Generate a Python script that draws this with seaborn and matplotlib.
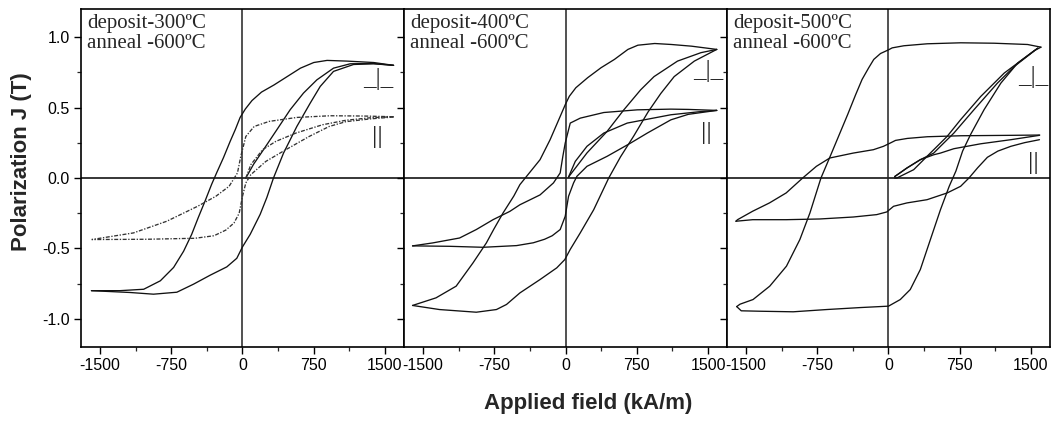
import numpy as np
import pandas as pd
import matplotlib
matplotlib.use("Agg")
import matplotlib.pyplot as plt
from matplotlib.ticker import MultipleLocator, FixedLocator
import seaborn as sns

# ---------------- data (H in kA/m, J in T) ----------------
# Panel 1: deposit-300C
p1_perp_desc_H = [1590, 1380, 1100, 890, 750, 610, 470, 330, 200, 100, 30, -25, -75, -130, -200, -270, -325, -395, -465, -535, -620, -725, -865, -1040, -1290, -1590]
p1_perp_desc_J = [0.80, 0.82, 0.83, 0.835, 0.82, 0.78, 0.72, 0.66, 0.61, 0.55, 0.49, 0.43, 0.345, 0.26, 0.145, 0.04, -0.045, -0.165, -0.28, -0.40, -0.52, -0.635, -0.73, -0.79, -0.80, -0.80]
p1_perp_asc_H = [-1590, -1183, -937, -691, -516, -340, -165, -60, 0, 81, 186, 256, 326, 432, 572, 713, 818, 958, 1169, 1379, 1590]
p1_perp_asc_J = [-0.80, -0.813, -0.825, -0.811, -0.754, -0.69, -0.631, -0.57, -0.489, -0.40, -0.258, -0.139, 0.0, 0.177, 0.366, 0.532, 0.65, 0.757, 0.806, 0.811, 0.80]
p1_perp_init_H = [35, 116, 221, 362, 502, 642, 783, 958, 1134, 1379, 1590]
p1_perp_init_J = [0.0, 0.097, 0.201, 0.343, 0.485, 0.603, 0.697, 0.78, 0.811, 0.813, 0.80]

p1_par_up_H = [1590, 1274, 923, 572, 281, 123, 35, -18, -53, -141, -281, -470, -797, -1148, -1587]
p1_par_up_J = [0.435, 0.44, 0.442, 0.43, 0.402, 0.366, 0.295, 0.154, 0.036, -0.059, -0.13, -0.20, -0.307, -0.39, -0.437]
p1_par_low_H = [1590, 1350, 1088, 913, 702, 456, 246, 88, 35, 0, -35, -90, -176, -300, -500, -1007, -1587]
p1_par_low_J = [0.433, 0.42, 0.40, 0.366, 0.295, 0.201, 0.118, 0.024, -0.035, -0.13, -0.25, -0.32, -0.37, -0.41, -0.428, -0.435, -0.437]
p1_par_init_H = [35, 88, 211, 351, 562, 842, 1088, 1350, 1590]
p1_par_init_J = [0.0, 0.095, 0.201, 0.26, 0.319, 0.378, 0.41, 0.428, 0.435]

# Panel 2: deposit-400C
p2_perp_desc_H = [1592, 1327, 1115, 939, 762, 657, 515, 374, 233, 109, 40, -3, -56, -162, -268, -480, -544, -657, -755, -833, -974, -1151, -1363, -1610]
p2_perp_desc_J = [0.913, 0.936, 0.948, 0.955, 0.943, 0.913, 0.842, 0.783, 0.712, 0.641, 0.58, 0.52, 0.437, 0.272, 0.13, -0.047, -0.128, -0.248, -0.364, -0.461, -0.603, -0.768, -0.851, -0.905]
p2_perp_asc_H = [-1610, -1327, -939, -727, -621, -480, -268, -92, -7, 49, 155, 297, 455, 579, 720, 870, 1003, 1144, 1356, 1592]
p2_perp_asc_J = [-0.905, -0.934, -0.953, -0.934, -0.898, -0.816, -0.721, -0.638, -0.579, -0.508, -0.39, -0.225, 0.0, 0.15, 0.30, 0.47, 0.60, 0.72, 0.83, 0.913]
p2_perp_init_H = [32, 226, 438, 614, 791, 932, 1179, 1426, 1592]
p2_perp_init_J = [0.007, 0.178, 0.331, 0.484, 0.626, 0.72, 0.83, 0.89, 0.913]

p2_par_up_H = [1592, 1292, 1109, 756, 403, 155, 50, -3, -28, -56, -127, -268, -480, -586, -763, -939, -1115, -1398, -1610]
p2_par_up_J = [0.48, 0.487, 0.489, 0.484, 0.465, 0.425, 0.39, 0.248, 0.154, 0.036, -0.035, -0.12, -0.19, -0.237, -0.296, -0.366, -0.426, -0.461, -0.482]
p2_par_low_H = [1592, 1292, 1109, 861, 685, 438, 226, 120, 85, 32, -3, -56, -140, -220, -339, -515, -868, -1221, -1610]
p2_par_low_J = [0.48, 0.452, 0.413, 0.319, 0.248, 0.154, 0.083, 0.012, -0.035, -0.13, -0.272, -0.366, -0.41, -0.435, -0.46, -0.48, -0.492, -0.485, -0.482]
p2_par_init_H = [32, 103, 226, 403, 650, 1109, 1400, 1592]
p2_par_init_J = [0.007, 0.118, 0.225, 0.319, 0.39, 0.449, 0.47, 0.48]

# Panel 3: deposit-500C
p3_perp_desc_H = [1605, 1464, 1112, 760, 408, 162, 39, 0, -84, -155, -208, -278, -345, -429, -517, -605, -711, -827, -933, -1074, -1250, -1426, -1563, -1598]
p3_perp_desc_J = [0.929, 0.948, 0.957, 0.96, 0.953, 0.939, 0.924, 0.91, 0.884, 0.842, 0.783, 0.70, 0.593, 0.452, 0.31, 0.168, 0.0, -0.248, -0.437, -0.626, -0.768, -0.863, -0.896, -0.913]
p3_perp_asc_H = [-1598, -1550, -1356, -1003, -650, -297, 0, 124, 229, 335, 441, 547, 639, 710, 780, 865, 1006, 1183, 1359, 1536, 1605]
p3_perp_asc_J = [-0.913, -0.943, -0.946, -0.95, -0.934, -0.92, -0.91, -0.863, -0.792, -0.65, -0.437, -0.225, -0.059, 0.05, 0.191, 0.31, 0.485, 0.674, 0.816, 0.905, 0.929]
p3_perp_minA_H = [65, 194, 335, 476, 547, 688, 900, 1147, 1324, 1571]
p3_perp_minA_J = [0.01, 0.071, 0.13, 0.177, 0.225, 0.319, 0.485, 0.674, 0.792, 0.922]
p3_perp_minB_H = [65, 88, 265, 406, 618, 759, 971, 1218, 1571]
p3_perp_minB_J = [0.0, 0.0, 0.059, 0.154, 0.296, 0.414, 0.579, 0.745, 0.922]

p3_par_up_H = [1592, 1292, 762, 409, 198, 74, 18, -53, -159, -371, -618, -759, -900, -1077, -1253, -1430, -1589, -1606]
p3_par_up_J = [0.305, 0.303, 0.30, 0.293, 0.281, 0.267, 0.248, 0.225, 0.201, 0.177, 0.142, 0.083, 0.002, -0.106, -0.177, -0.236, -0.296, -0.307]
p3_par_low_H = [-1606, -1430, -1077, -724, -371, -124, -18, 53, 194, 406, 618, 759, 847, 939, 1041, 1151, 1288, 1433, 1589]
p3_par_low_J = [-0.307, -0.296, -0.296, -0.291, -0.277, -0.26, -0.241, -0.201, -0.177, -0.154, -0.106, -0.059, 0.0, 0.073, 0.147, 0.191, 0.225, 0.251, 0.272]
p3_par_init_H = [65, 194, 335, 476, 547, 688, 971, 1288, 1589]
p3_par_init_J = [0.01, 0.071, 0.13, 0.165, 0.177, 0.208, 0.243, 0.272, 0.303]

panel_titles = ["deposit-300\u00baC\nanneal -600\u00baC",
                "deposit-400\u00baC\nanneal -600\u00baC",
                "deposit-500\u00baC\nanneal -600\u00baC"]
perp_label_pos = [(1432, 0.70), (1500, 0.76), (1522, 0.72)]
par_label_pos = [(1421, 0.29), (1483, 0.321), (1522, 0.109)]

x_ticks = [-1500, -750, 0, 750, 1500]
x_tick_labels = ["-1500", "-750", "0", "750", "1500"]
y_ticks = [-1.0, -0.5, 0.0, 0.5, 1.0]
y_tick_labels = ["-1.0", "-0.5", "0.0", "0.5", "1.0"]

panels = [
    {"solid": [(p1_perp_desc_H, p1_perp_desc_J), (p1_perp_asc_H, p1_perp_asc_J), (p1_perp_init_H, p1_perp_init_J)],
     "dashed": [(p1_par_up_H, p1_par_up_J), (p1_par_low_H, p1_par_low_J), (p1_par_init_H, p1_par_init_J)]},
    {"solid": [(p2_perp_desc_H, p2_perp_desc_J), (p2_perp_asc_H, p2_perp_asc_J), (p2_perp_init_H, p2_perp_init_J),
               (p2_par_up_H, p2_par_up_J), (p2_par_low_H, p2_par_low_J), (p2_par_init_H, p2_par_init_J)],
     "dashed": []},
    {"solid": [(p3_perp_desc_H, p3_perp_desc_J), (p3_perp_asc_H, p3_perp_asc_J), (p3_perp_minA_H, p3_perp_minA_J),
               (p3_perp_minB_H, p3_perp_minB_J),
               (p3_par_up_H, p3_par_up_J), (p3_par_low_H, p3_par_low_J), (p3_par_init_H, p3_par_init_J)],
     "dashed": []},
]

# ---------------- style ----------------
sns.set_style("ticks")
plt.rcParams["font.family"] = ["Liberation Sans", "DejaVu Sans"]
plt.rcParams["axes.unicode_minus"] = False
plt.rcParams["xtick.direction"] = "out"
plt.rcParams["ytick.direction"] = "out"
plt.rcParams["lines.solid_joinstyle"] = "round"

fig, axes = plt.subplots(1, 3, figsize=(10.51, 4.21), dpi=100, sharey=True)
fig.subplots_adjust(left=81 / 1051, right=1050 / 1051, bottom=74 / 421, top=412 / 421, wspace=0)

serif = ["Liberation Serif", "DejaVu Serif"]
for i, (ax, pdata) in enumerate(zip(axes, panels)):
    ax.axhline(0, color="black", lw=1.1, zorder=1)
    ax.axvline(0, color="#222222", lw=1.1, zorder=1)
    for H, J in pdata["solid"]:
        df = pd.DataFrame({"H": H, "J": J})
        sns.lineplot(data=df, x="H", y="J", ax=ax, sort=False, estimator=None,
                     color="#111111", lw=0.95, zorder=3)
    for H, J in pdata["dashed"]:
        df = pd.DataFrame({"H": H, "J": J})
        sns.lineplot(data=df, x="H", y="J", ax=ax, sort=False, estimator=None,
                     color="#333333", lw=0.95, zorder=3, linestyle=(0, (3, 1.2, 1, 1.2)))
    ax.set_xlim(-1700, 1700)
    ax.set_ylim(-1.2, 1.2)
    ax.set_xlabel("")
    ax.set_ylabel("")
    ax.xaxis.set_major_locator(FixedLocator(x_ticks))
    ax.set_xticklabels(x_tick_labels)
    ax.xaxis.set_minor_locator(MultipleLocator(375))
    ax.yaxis.set_major_locator(FixedLocator(y_ticks))
    ax.yaxis.set_minor_locator(MultipleLocator(0.25))
    ax.tick_params(which="major", length=5, width=1.0, labelsize=11.5, colors="black", pad=3)
    ax.tick_params(which="minor", length=3, width=0.9)
    if i == 0:
        ax.set_yticklabels(y_tick_labels)
    else:
        ax.tick_params(axis="y", which="both", labelleft=False)
    for sp in ax.spines.values():
        sp.set_visible(True)
        sp.set_linewidth(1.2)
        sp.set_color("black")
    ax.text(0.018, 0.985, panel_titles[i], transform=ax.transAxes, ha="left", va="top",
            family=serif, fontsize=15, linespacing=1.05)
    ax.text(perp_label_pos[i][0], perp_label_pos[i][1], "_|_", ha="center", va="center",
            family=serif, fontsize=18)
    ax.text(par_label_pos[i][0], par_label_pos[i][1], "||", ha="center", va="center",
            family=serif, fontsize=19)

fig.text(588 / 1051, 1 - 404 / 421, "Applied field (kA/m)", ha="center", va="center",
         fontweight="bold", fontsize=16)
fig.text(22 / 1051, 1 - 162 / 421, "Polarization J (T)", ha="center", va="center",
         rotation=90, fontweight="bold", fontsize=16)

fig.savefig("out.png", dpi=100)
